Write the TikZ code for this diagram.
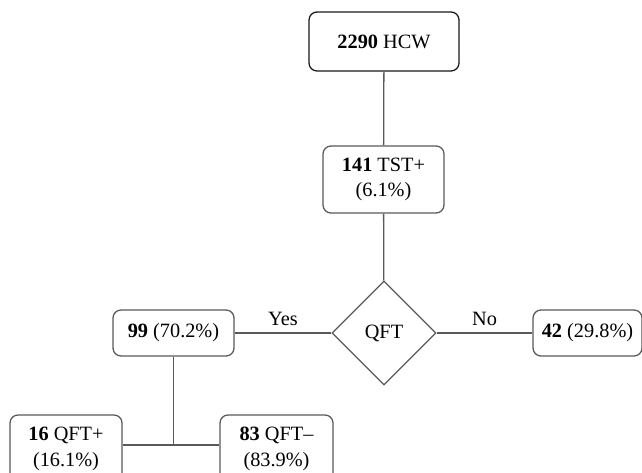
\documentclass[tikz,border=0pt]{standalone}
\usepackage{fontspec}
\setmainfont{Liberation Serif}
\usetikzlibrary{shapes.geometric}
\tikzset{
	box/.style={draw=black!65, line width=0.45mm, rounded corners=8pt, align=center, inner sep=0pt},
	link/.style={draw=black!65, line width=0.45mm},
	txt/.style={font=\fontsize{20.3}{25.5}\selectfont}
}

\begin{document}
\begin{tikzpicture}[x=1pt, y=-1pt, txt]
			%%%%% START %%%%%
			\useasboundingbox (0, 0) rectangle (642, 473);
			
			\node[box, draw=black!90, minimum width=150pt, minimum height=59pt] (hcw) at (384, 41.5) {\textbf{2290} HCW};
			\node[box, minimum width=121pt, minimum height=67pt] (tst) at (383.5, 179.5) {\textbf{141} TST+\\(6.1\%)};
			
			\node[diamond, draw=black!65, line width=0.45mm, minimum size=104pt, inner sep=0pt] (qft) at (384, 333) {QFT};
			
			\node[box, minimum width=121pt, minimum height=46pt] (yes) at (173.5, 333) {\textbf{99} (70.2\%)};
			\node[box, minimum width=109pt, minimum height=46pt] (no) at (587.5, 333) {\textbf{42} (29.8\%)};
			
			\node[box, minimum width=112pt, minimum height=68pt] (pos) at (66, 449) {\textbf{16} QFT+\\(16.1\%)};
			\node[box, minimum width=113pt, minimum height=68pt] (neg) at (276.5, 449) {\textbf{83} QFT\textendash\\(83.9\%)};
			
			\coordinate (split) at (173.5, 445);
			
			\draw[link] (hcw) -- (tst);
			\draw[link] (tst) -- (qft);
			\draw[link] (qft.west) -- node[above, yshift=3pt] {Yes} (yes.east);
			\draw[link] (qft.east) -- node[above, yshift=3pt] {No} (no.west);
			\draw[link] (yes) -- (split);
			\draw[link] (pos.east |- split) -- (neg.west |- split);
			
			%%%%% END %%%%%
		\end{tikzpicture}
\end{document}
